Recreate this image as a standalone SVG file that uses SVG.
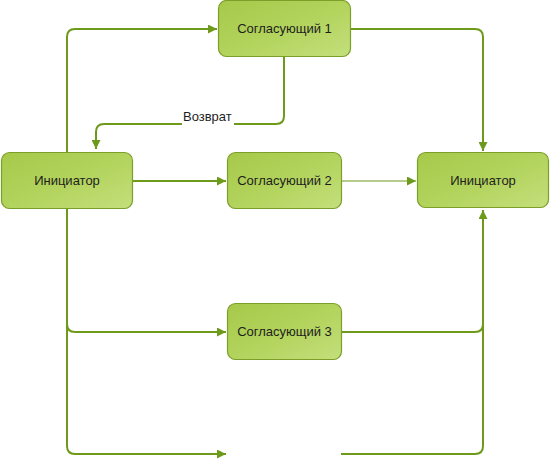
<svg xmlns="http://www.w3.org/2000/svg" width="552" height="460" viewBox="0 0 552 460">
<defs>
<linearGradient id="g" x1="0" y1="0" x2="1" y2="1">
<stop offset="0" stop-color="#a6c94a"/>
<stop offset="0.5" stop-color="#b2d35c"/>
<stop offset="1" stop-color="#c4df7c"/>
</linearGradient>
<marker id="ar" viewBox="0 0 10 10" refX="10" refY="5" markerWidth="9" markerHeight="9" markerUnits="userSpaceOnUse" orient="auto">
<path d="M0,0 L10,5 L0,10 z" fill="#6e9a1c"/>
</marker>
<style>
.n rect{fill:url(#g);stroke:#7c9f2a;stroke-width:1.2}
.n text{font-family:"Liberation Sans",Arial,sans-serif;font-size:13px;fill:#1e1e1e;text-anchor:middle;dominant-baseline:central}
.c path{fill:none;stroke:#6e9a1c;stroke-width:2}
.c .thin{stroke-width:1.2}
.lbl{font-family:"Liberation Sans",Arial,sans-serif;font-size:13px;fill:#1e1e1e}
</style>
</defs>
<rect width="552" height="460" fill="#fff"/>
<g id="connectors" class="c">
<path d="M67,152 V37 Q67,29 75,29 H217" marker-end="url(#ar)"/>
<path d="M351,29 H475 Q483,29 483,37 V151" marker-end="url(#ar)"/>
<path d="M284,57 V116 Q284,124 276,124 H234"/>
<path d="M182,124 H104 Q96,124 96,132 V149" marker-end="url(#ar)"/>
<path d="M133,181 H226" marker-end="url(#ar)"/>
<path class="thin" d="M342,181 H416" marker-end="url(#ar)"/>
<path d="M67,209 V324 Q67,332 75,332 H226" marker-end="url(#ar)"/>
<path d="M67,324 V446 Q67,454 75,454 H226" marker-end="url(#ar)"/>
<path d="M342,332 H475 Q483,332 483,324 V210" marker-end="url(#ar)"/>
<path d="M341,454 H475 Q483,454 483,446 V324"/>
</g>
<text class="lbl" x="183" y="121">Возврат</text>
<g id="sogl1" class="n"><rect x="218.5" y="0.5" width="132" height="56" rx="8"/><text x="284.5" y="28">Согласующий 1</text></g>
<g id="init1" class="n"><rect x="1.5" y="152.5" width="131" height="56" rx="8"/><text x="67" y="180.5">Инициатор</text></g>
<g id="sogl2" class="n"><rect x="227.5" y="152.5" width="114" height="56" rx="8"/><text x="284.5" y="180.5">Согласующий 2</text></g>
<g id="init2" class="n"><rect x="417.5" y="152.5" width="131" height="55" rx="8"/><text x="483" y="180">Инициатор</text></g>
<g id="sogl3" class="n"><rect x="227.5" y="303.5" width="114" height="56" rx="8"/><text x="284.5" y="331.5">Согласующий 3</text></g>
</svg>
